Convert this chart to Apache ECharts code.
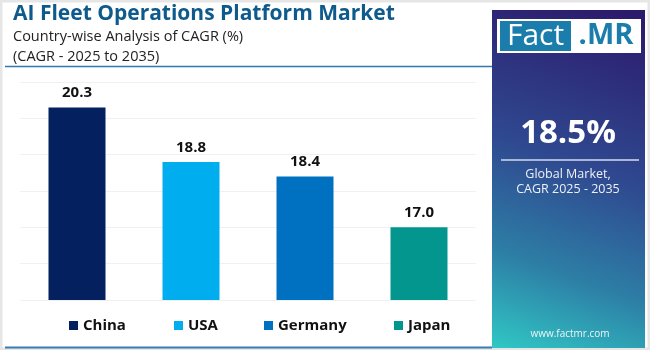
<!DOCTYPE html>
<html>
<head>
<meta charset="utf-8">
<style>
  html, body { margin: 0; padding: 0; background: #fff; }
  #main { width: 650px; height: 350px; }
</style>
<script src="https://cdn.jsdelivr.net/npm/echarts@6/dist/echarts.min.js"></script>
</head>
<body>
<div id="main"></div>
<script>
// data
var countries = ['China', 'USA', 'Germany', 'Japan'];
var cagrValues = [20.3, 18.8, 18.4, 17.0];
var barColors = ['#04205e', '#00aeef', '#0070c0', '#03968f'];
var globalCagr = '18.5%';

var FONT = '"Open Sans", "DejaVu Sans", sans-serif';

// one series per country so the legend gets one entry each
var series = countries.map(function (name, i) {
  var row = countries.map(function (c, j) { return j === i ? cagrValues[i] : '-'; });
  return {
    name: name,
    type: 'bar',
    data: row,
    barWidth: 57,
    barGap: '-100%',
    itemStyle: { color: barColors[i] },
    label: {
      show: true,
      position: 'top',
      distance: 7,
      color: '#111',
      fontFamily: FONT,
      fontWeight: 'bold',
      fontSize: 15,
      formatter: function (p) { return Number(p.value).toFixed(1); }
    }
  };
});

// legend positions, one legend per item
var legendLeft = [64, 169, 259, 389];
var legends = countries.map(function (name, i) {
  return {
    data: [name],
    left: legendLeft[i],
    top: 313,
    itemWidth: 9,
    itemHeight: 9,
    icon: 'rect',
    itemGap: 0,
    textStyle: { color: '#111', fontFamily: FONT, fontWeight: 'bold', fontSize: 15, padding: [0, 0, 0, 0] }
  };
});

var chart = echarts.init(document.getElementById('main'));
chart.setOption({
  animation: false,
  grid: { left: 20, right: 174, top: 82, bottom: 50 },
  legend: legends,
  xAxis: {
    type: 'category',
    data: countries,
    axisLine: { show: false },
    axisTick: { show: false },
    axisLabel: { show: false }
  },
  yAxis: {
    type: 'value',
    min: 15,
    max: 21,
    interval: 1,
    axisLine: { show: false },
    axisTick: { show: false },
    axisLabel: { show: false },
    splitLine: { lineStyle: { color: '#f0f0f0', width: 1 } }
  },
  series: series,
  graphic: [
    // outer frame
    { type: 'rect', z: -10, shape: { x: 1, y: 1, width: 648, height: 348 },
      style: { fill: 'none', stroke: '#e6e6e6', lineWidth: 3 } },
    // title
    { type: 'text', left: 13, top: 4,
      style: { text: 'AI Fleet Operations Platform Market', fill: '#0e5a8c',
        font: 'bold 21px ' + FONT } },
    { type: 'text', left: 13, top: 29,
      style: { text: 'Country-wise Analysis of CAGR (%)', fill: '#222',
        font: '14.5px ' + FONT } },
    { type: 'text', left: 13, top: 49,
      style: { text: '(CAGR - 2025 to 2035)', fill: '#222',
        font: '14.5px ' + FONT } },
    { type: 'line', shape: { x1: 5, y1: 66.5, x2: 492, y2: 66.5 },
      style: { stroke: '#2f78b0', lineWidth: 1.5 } },
    { type: 'line', shape: { x1: 5, y1: 347.5, x2: 492, y2: 347.5 },
      style: { stroke: '#3a7db5', lineWidth: 2 } },
    // right panel
    { type: 'rect', shape: { x: 492, y: 10, width: 153, height: 338 },
      style: {
        fill: new echarts.graphic.LinearGradient(0.85, 0, 0.05, 1, [
          { offset: 0, color: '#2c1a6c' },
          { offset: 0.45, color: '#2f4990' },
          { offset: 0.75, color: '#2d7fa6' },
          { offset: 1, color: '#30c6c4' }
        ])
      } },
    // logo
    { type: 'rect', shape: { x: 497, y: 19, width: 144, height: 34 }, style: { fill: '#ffffff' } },
    { type: 'rect', shape: { x: 500, y: 21, width: 71, height: 30 }, style: { fill: '#1a7dab' } },
    { type: 'text', x: 535.5, y: 36, style: { text: 'Fact', fill: '#ffffff', font: '30px ' + FONT,
        align: 'center', verticalAlign: 'middle' } },
    { type: 'text', x: 606, y: 36, style: { text: '.MR', fill: '#1a7dab', font: 'bold 29px ' + FONT,
        align: 'center', verticalAlign: 'middle' } },
    // global CAGR
    { type: 'text', x: 568, y: 134, style: { text: globalCagr, fill: '#ffffff', font: 'bold 33px ' + FONT,
        align: 'center', verticalAlign: 'middle' } },
    { type: 'line', shape: { x1: 501, y1: 160, x2: 639, y2: 160 },
      style: { stroke: '#a9b6d6', lineWidth: 2 } },
    { type: 'text', x: 568, y: 174, style: { text: 'Global Market,', fill: '#eef0f6', font: '12.5px ' + FONT,
        align: 'center', verticalAlign: 'middle' } },
    { type: 'text', x: 568, y: 189, style: { text: 'CAGR 2025 - 2035', fill: '#eef0f6', font: '12.5px ' + FONT,
        align: 'center', verticalAlign: 'middle' } },
    { type: 'text', x: 570, y: 334, style: { text: 'www.factmr.com', fill: '#eef4f8', font: '10px ' + FONT,
        align: 'center', verticalAlign: 'middle' } }
  ]
});
</script>
</body>
</html>
